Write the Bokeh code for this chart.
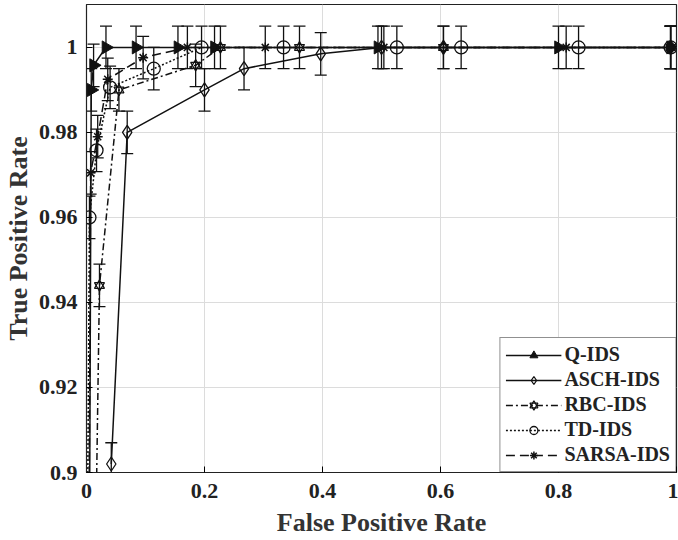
import numpy as np
from bokeh.plotting import figure
from bokeh.models import FixedTicker, Legend, LegendItem, Range1d
from bokeh.embed import file_html
from bokeh.resources import INLINE

# ---- data ----
q_x = [0.0, 0.008, 0.012, 0.033, 0.084, 0.155, 0.217, 0.494, 0.80, 0.99]
q_y = [0.70, 0.990, 0.9958, 1.0, 1.0, 1.0, 1.0, 1.0, 1.0, 1.0]

asch_x = [0.042, 0.069, 0.200, 0.267, 0.397, 0.500, 0.605, 0.99]
asch_y = [0.902, 0.980, 0.990, 0.995, 0.9985, 1.0, 1.0, 1.0]

rbc_x = [0.012, 0.022, 0.055, 0.185, 0.227, 0.361, 0.605, 0.99]
rbc_y = [0.85, 0.944, 0.990, 0.9958, 1.0, 1.0, 1.0, 1.0]

td_x = [0.0, 0.005, 0.017, 0.040, 0.114, 0.195, 0.334, 0.526, 0.635, 0.834, 0.99]
td_y = [0.85, 0.960, 0.9758, 0.9906, 0.995, 1.0, 1.0, 1.0, 1.0, 1.0, 1.0]

sarsa_x = [0.003, 0.007, 0.019, 0.036, 0.096, 0.171, 0.303, 0.504, 0.813, 0.99]
sarsa_y = [0.85, 0.9705, 0.979, 0.9925, 0.9976, 1.0, 1.0, 1.0, 1.0, 1.0]

err = 0.005

x_ticks = [0, 0.2, 0.4, 0.6, 0.8, 1.0]
x_labels = ["0", "0.2", "0.4", "0.6", "0.8", "1"]
y_ticks = [0.9, 0.92, 0.94, 0.96, 0.98, 1.0]
y_labels = ["0.9", "0.92", "0.94", "0.96", "0.98", "1"]

FONT = "Liberation Serif"

p = figure(width=678, height=540, output_backend="svg", toolbar_location=None,
           x_range=Range1d(0, 1), y_range=Range1d(0.9, 1.0101),
           min_border_left=83, min_border_right=2, min_border_top=4,
           min_border_bottom=68)
p.background_fill_color = "white"
p.border_fill_color = "white"
p.outline_line_color = "#222222"
p.outline_line_width = 1.2

for ax in (p.xaxis[0], p.yaxis[0]):
    ax.major_tick_in = 6
    ax.major_tick_out = 0
    ax.minor_tick_line_color = None
    ax.axis_line_color = "#222222"
    ax.major_label_text_font = FONT
    ax.major_label_text_font_style = "bold"
    ax.major_label_text_font_size = "22px"
    ax.major_label_text_color = "#222222"
    ax.axis_label_text_font = FONT
    ax.axis_label_text_font_style = "bold"
    ax.axis_label_text_font_size = "26px"
    ax.axis_label_text_color = "#333333"

p.xaxis.ticker = FixedTicker(ticks=x_ticks)
p.xaxis.major_label_overrides = dict(zip(x_ticks, x_labels))
p.yaxis.ticker = FixedTicker(ticks=y_ticks)
p.yaxis.major_label_overrides = dict(zip(y_ticks, y_labels))
p.xaxis.axis_label = "False Positive Rate"
p.yaxis.axis_label = "True Positive Rate"
p.xaxis.major_label_standoff = 11
p.yaxis.major_label_standoff = 9
p.xaxis.axis_label_standoff = 7
p.yaxis.axis_label_standoff = 3

p.xgrid.ticker = FixedTicker(ticks=x_ticks)
p.ygrid.ticker = FixedTicker(ticks=y_ticks)
p.grid.grid_line_color = "#dcdcdc"
p.grid.grid_line_width = 1

C = "#111111"
LW = 1.5


def errbars(xs, ys):
    xs = np.asarray(xs)
    ys = np.asarray(ys)
    p.segment(x0=xs, y0=ys - err, x1=xs, y1=ys + err, line_color=C, line_width=1.3)
    p.scatter(x=xs, y=ys - err, marker="dash", size=12, line_color=C, line_width=1.3)
    p.scatter(x=xs, y=ys + err, marker="dash", size=12, line_color=C, line_width=1.3)


items = []

# Q-IDS
errbars(q_x, q_y)
l1 = p.line(q_x, q_y, line_color=C, line_width=LW)
m1 = p.scatter(q_x, q_y, marker="triangle", angle=-np.pi / 2, size=13,
               fill_color=C, line_color=C)
items.append(LegendItem(label="Q-IDS", renderers=[l1, m1]))

# ASCH-IDS
errbars(asch_x, asch_y)
l2 = p.line(asch_x, asch_y, line_color=C, line_width=LW)
m2 = p.scatter(asch_x, asch_y, marker="diamond", size=14, fill_alpha=0,
               line_color=C, line_width=1.3)
items.append(LegendItem(label="ASCH-IDS", renderers=[l2, m2]))

# RBC-IDS (hexagram = up + down triangles)
errbars(rbc_x, rbc_y)
l3 = p.line(rbc_x, rbc_y, line_color=C, line_width=LW, line_dash="7 3 2 3")
m3a = p.scatter(rbc_x, rbc_y, marker="triangle", size=10, fill_alpha=0,
                line_color=C, line_width=1.2)
m3b = p.scatter(rbc_x, rbc_y, marker="inverted_triangle", size=10, fill_alpha=0,
                line_color=C, line_width=1.2)
items.append(LegendItem(label="RBC-IDS", renderers=[l3, m3a, m3b]))

# TD-IDS
errbars(td_x, td_y)
l4 = p.line(td_x, td_y, line_color=C, line_width=LW, line_dash="2 2")
m4 = p.scatter(td_x, td_y, marker="circle", size=13, fill_alpha=0,
               line_color=C, line_width=1.3)
items.append(LegendItem(label="TD-IDS", renderers=[l4, m4]))

# SARSA-IDS
errbars(sarsa_x, sarsa_y)
l5 = p.line(sarsa_x, sarsa_y, line_color=C, line_width=LW, line_dash="9 5")
m5 = p.scatter(sarsa_x, sarsa_y, marker="asterisk", size=10, line_color=C,
               line_width=1.5)
items.append(LegendItem(label="SARSA-IDS", renderers=[l5, m5]))

legend = Legend(items=items, location="bottom_right")
legend.label_text_font = FONT
legend.label_text_font_style = "bold"
legend.label_text_font_size = "20px"
legend.label_text_color = "#222222"
legend.glyph_width = 56
legend.glyph_height = 20
legend.label_height = 20
legend.spacing = 2
legend.padding = 5
legend.margin = 0
legend.label_standoff = 3
legend.border_line_color = "#222222"
legend.border_line_width = 1.2
legend.background_fill_color = "white"
legend.background_fill_alpha = 1
p.add_layout(legend)

open("out.html", "w").write(file_html(p, INLINE))
